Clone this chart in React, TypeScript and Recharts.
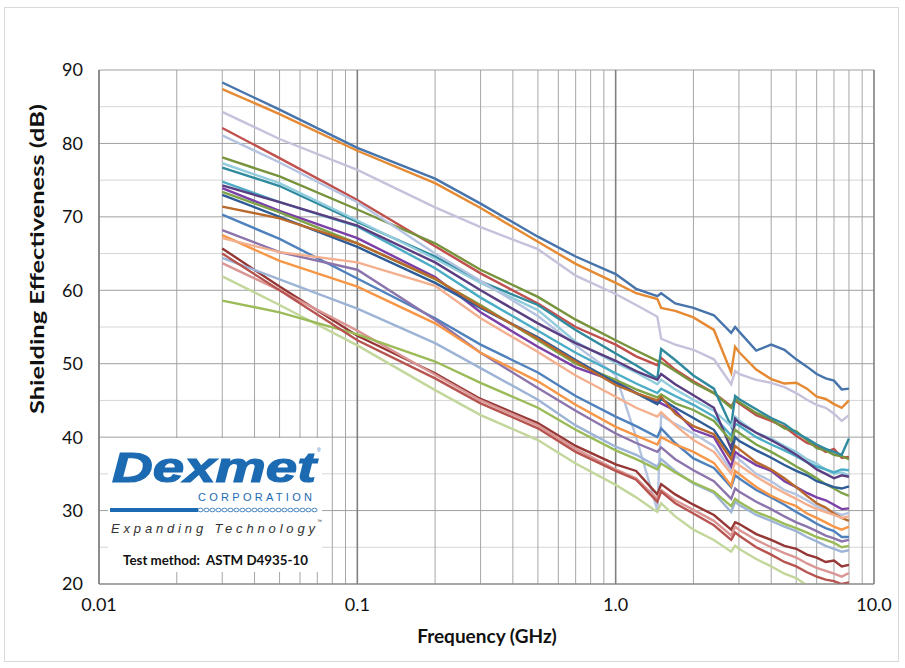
import { Line, LineChart, ReferenceLine, XAxis, YAxis } from "recharts";

// frequency points (GHz) shared by every curve
const frequency = [
  0.03, 0.05, 0.1, 0.2, 0.3, 0.5, 0.7, 1.0, 1.2, 1.45, 1.5, 1.7, 2.0, 2.4, 2.8,
  2.9, 3.0, 3.5, 4.0, 4.5, 5.0, 5.5, 6.0, 6.5, 7.0, 7.5, 8.0,
];

// shielding effectiveness (dB)
const seBlue = [88.3, 84.6, 79.4, 75.2, 71.8, 67.3, 64.6, 62.2, 60.2, 59.2, 59.6, 58.2, 57.6, 56.6, 54.2, 55.0, 54.4, 51.8, 52.6, 51.9, 50.6, 49.6, 48.6, 48.0, 47.7, 46.5, 46.6];
const seOrange = [87.4, 84.0, 79.0, 74.6, 71.2, 66.6, 63.6, 61.0, 59.6, 58.8, 57.6, 57.2, 56.3, 54.6, 48.8, 52.3, 51.6, 49.2, 47.9, 47.3, 47.4, 46.6, 45.5, 45.2, 44.5, 44.0, 45.0];
const seLavender = [84.3, 80.6, 76.4, 71.3, 68.6, 65.6, 62.0, 59.5, 58.0, 56.4, 53.4, 52.6, 51.9, 50.6, 47.2, 49.0, 48.6, 47.8, 47.4, 46.8, 46.0, 45.1, 44.4, 44.0, 43.2, 42.2, 43.0];
const seRed = [82.1, 78.0, 72.3, 66.0, 62.3, 58.2, 55.0, 52.6, 51.0, 49.8, 50.8, 49.2, 47.6, 46.0, 44.2, 45.0, 44.6, 43.0, 42.2, 41.4, 40.2, 39.2, 38.8, 38.0, 38.4, 37.2, 37.3];
const seOlive = [78.1, 75.5, 71.0, 66.4, 62.8, 59.1, 56.0, 53.2, 51.8, 50.4, 50.2, 49.0, 47.4, 46.0, 44.0, 45.2, 44.8, 43.3, 42.4, 41.2, 40.8, 39.6, 38.5, 38.2, 37.6, 37.4, 37.0];
const seTeal = [76.7, 74.2, 69.3, 64.6, 61.2, 58.0, 54.6, 51.4, 49.8, 48.0, 52.0, 50.5, 48.4, 46.6, 41.5, 45.6, 45.2, 43.8, 42.6, 41.8, 40.6, 39.8, 39.0, 38.4, 38.0, 37.6, 39.8];
const seLightTeal = [77.3, 74.6, 69.5, 64.3, 61.0, 57.3, 53.0, 50.1, 48.8, 47.2, 47.8, 46.5, 45.1, 43.6, 41.5, 42.8, 42.3, 40.6, 39.8, 38.8, 38.0, 37.0, 36.4, 35.6, 35.0, 35.2, 34.8];
const sePeriwinkle = [81.1, 77.4, 72.0, 65.0, 61.3, 56.5, 52.5, 48.5, 40.0, 30.0, 43.0, 41.8, 40.5, 38.8, 35.5, 37.5, 37.0, 35.0, 34.0, 32.8, 32.2, 31.4, 30.6, 30.0, 29.8, 29.4, 29.7];
const seAqua = [74.8, 72.0, 68.7, 63.0, 59.0, 54.5, 51.5, 48.7, 47.3, 46.0, 46.6, 45.6, 44.4, 42.8, 40.2, 41.8, 41.6, 40.0, 39.0, 38.2, 37.4, 36.6, 36.0, 35.6, 35.2, 35.6, 35.5];
const seDarkPurple = [74.3, 72.0, 68.8, 63.8, 60.0, 55.5, 52.8, 50.4, 49.0, 47.8, 48.6, 47.2, 45.7, 44.0, 38.4, 42.5, 42.0, 40.6, 39.6, 38.6, 37.6, 36.6, 35.6, 35.0, 34.4, 34.8, 34.6];
const sePurple = [73.9, 70.8, 67.1, 61.8, 57.0, 52.3, 49.5, 47.6, 46.0, 44.8, 44.6, 43.6, 41.0, 40.0, 36.0, 38.0, 37.6, 36.2, 35.4, 34.0, 33.2, 32.4, 31.8, 31.4, 30.8, 30.2, 30.3];
const seGreen = [73.4, 70.6, 66.4, 61.5, 58.0, 53.2, 50.0, 47.8, 46.5, 45.4, 45.8, 44.6, 43.7, 42.2, 39.5, 41.0, 40.6, 39.0, 38.0, 37.0, 36.0, 35.2, 34.4, 33.6, 33.0, 32.4, 32.0];
const seNavy = [73.0, 70.0, 65.9, 61.0, 57.6, 53.6, 50.5, 47.4, 46.0, 44.5, 45.2, 44.0, 42.6, 41.0, 37.5, 40.0, 39.5, 38.2, 37.2, 36.2, 35.4, 34.8, 34.0, 33.6, 33.2, 33.0, 33.3];
const seBrown = [71.4, 69.8, 66.4, 61.6, 57.8, 53.4, 50.3, 47.1, 46.0, 45.0, 45.5, 43.2, 41.5, 40.4, 37.0, 38.8, 38.4, 36.6, 35.6, 34.4, 33.2, 32.0, 31.0, 30.4, 29.6, 29.0, 28.6];
const seSteel = [70.3, 67.0, 61.6, 56.2, 52.6, 48.8, 45.6, 42.8, 41.5, 40.0, 41.2, 39.2, 37.1, 35.8, 33.2, 34.8, 34.4, 32.8, 31.8, 30.8, 29.8, 29.0, 28.2, 27.6, 27.2, 26.4, 26.4];
const seMauve = [68.2, 65.2, 62.8, 56.0, 51.5, 46.7, 43.6, 40.5, 39.2, 38.0, 38.6, 37.0, 35.5, 34.0, 31.6, 33.0, 32.6, 31.2, 30.2, 29.2, 28.4, 27.8, 27.2, 26.6, 26.2, 25.8, 26.0];
const seLightOrange = [67.5, 64.0, 60.5, 55.5, 51.5, 47.6, 44.4, 41.4, 40.2, 39.0, 40.0, 39.0, 38.0, 36.5, 33.4, 35.4, 35.0, 33.2, 32.0, 31.2, 30.6, 29.6, 29.0, 28.4, 27.8, 27.4, 27.8];
const seSalmon = [67.1, 65.2, 63.8, 60.6, 56.2, 51.6, 48.4, 45.5, 44.0, 42.8, 43.4, 41.6, 39.6, 38.0, 35.0, 36.6, 36.2, 34.6, 33.4, 32.4, 31.6, 30.8, 30.2, 29.8, 29.4, 29.0, 29.2];
const seMaroon = [65.7, 60.5, 53.8, 48.7, 45.2, 41.9, 38.8, 36.3, 35.4, 32.2, 33.6, 32.2, 30.8, 29.4, 27.4, 28.4, 28.2, 26.8, 26.0, 25.2, 24.8, 24.0, 23.6, 23.0, 23.2, 22.4, 22.6];
const seLightSteel = [64.4, 61.5, 57.5, 52.8, 49.4, 45.1, 41.6, 38.7, 37.6, 36.0, 37.0, 35.4, 33.7, 32.4, 29.8, 31.2, 30.8, 29.4, 28.6, 27.8, 27.2, 26.4, 25.8, 25.2, 24.8, 24.4, 24.6];
const sePink = [63.7, 60.0, 54.5, 48.5, 45.0, 41.6, 38.4, 35.6, 34.4, 31.6, 32.8, 31.4, 30.1, 28.6, 26.6, 27.8, 27.4, 26.0, 25.0, 24.2, 23.6, 22.8, 22.2, 21.8, 21.4, 21.0, 21.5];
const sePaleGreen = [61.9, 58.0, 52.5, 46.4, 43.0, 39.6, 36.4, 33.5, 31.8, 29.8, 31.0, 29.2, 27.4, 26.0, 24.4, 25.2, 24.8, 23.4, 22.4, 21.4, 20.8, 19.8, 19.0, 18.4, 17.8, 17.2, 16.8];
const seLime = [58.6, 57.0, 54.0, 50.3, 47.4, 44.0, 41.0, 38.2, 37.0, 35.6, 36.4, 35.2, 33.8, 32.6, 30.6, 31.6, 31.2, 29.8, 29.0, 28.2, 27.6, 27.0, 26.4, 26.0, 25.6, 25.0, 25.2];
const seRose = [65.0, 60.0, 53.2, 48.0, 44.6, 41.2, 38.0, 35.4, 34.2, 31.2, 32.6, 31.0, 29.6, 28.0, 26.0, 27.0, 26.6, 25.0, 24.0, 23.0, 22.4, 21.6, 21.0, 20.6, 20.4, 20.0, 20.2];

const series = [
  { key: "blue", color: "#4674ab", values: seBlue },
  { key: "orange", color: "#e58a33", values: seOrange },
  { key: "lavender", color: "#c7c1db", values: seLavender },
  { key: "red", color: "#c0504d", values: seRed },
  { key: "olive", color: "#77933c", values: seOlive },
  { key: "teal", color: "#2f8a9e", values: seTeal },
  { key: "lightTeal", color: "#93cddd", values: seLightTeal },
  { key: "periwinkle", color: "#b4c3e0", values: sePeriwinkle },
  { key: "aqua", color: "#4bacc6", values: seAqua },
  { key: "darkPurple", color: "#5a3e82", values: seDarkPurple },
  { key: "purple", color: "#7b3fa8", values: sePurple },
  { key: "green", color: "#7ea447", values: seGreen },
  { key: "navy", color: "#2e5c96", values: seNavy },
  { key: "brown", color: "#b9692c", values: seBrown },
  { key: "steel", color: "#4f81bd", values: seSteel },
  { key: "mauve", color: "#8c74ac", values: seMauve },
  { key: "lightOrange", color: "#f79646", values: seLightOrange },
  { key: "salmon", color: "#f4b08e", values: seSalmon },
  { key: "maroon", color: "#953735", values: seMaroon },
  { key: "lightSteel", color: "#9db4d6", values: seLightSteel },
  { key: "pink", color: "#d99694", values: sePink },
  { key: "paleGreen", color: "#c3d69b", values: sePaleGreen },
  { key: "lime", color: "#9bbb59", values: seLime },
  { key: "rose", color: "#b85450", values: seRose },
];

const xTicks = [0.01, 0.1, 1, 10];
const xTickLabels = ["0.01", "0.1", "1.0", "10.0"];
const xMinorGrid = [
  0.02, 0.03, 0.04, 0.05, 0.06, 0.07, 0.08, 0.09,
  0.2, 0.3, 0.4, 0.5, 0.6, 0.7, 0.8, 0.9,
  2, 3, 4, 5, 6, 7, 8, 9,
];
const yTicks = [20, 30, 40, 50, 60, 70, 80, 90];
const yMinorGrid = [25, 35, 45, 55, 65, 75, 85];

const rows = frequency.map((f, i) => {
  const row: Record<string, number> = { f };
  series.forEach((s) => (row[s.key] = s.values[i]));
  return row;
});

const FONT = "Lato, 'Liberation Sans', sans-serif";
const LOGO_FONT = "'Liberation Sans', sans-serif";
const BLUE = "#1c6ab2";

function Logo() {
  // little chain of links after the solid bar
  const links = Array.from({ length: 20 }, (_, i) => 200.5 + i * 6);
  return (
    <g>
      <rect x={108} y={438} width={214} height={134} fill="#fff" />
      <text x={112} y={482} fontFamily={LOGO_FONT} fontWeight="bold" fontStyle="italic"
        fontSize={42} fill={BLUE} stroke={BLUE} strokeWidth={1.2}
        textLength={204} lengthAdjust="spacingAndGlyphs">Dexmet</text>
      <text x={317} y={452} fontSize={5} fill={BLUE} fontFamily={LOGO_FONT}>®</text>
      <text x={198} y={501} fontFamily={LOGO_FONT} fontSize={11} fill={BLUE}
        textLength={114} lengthAdjust="spacing">CORPORATION</text>
      <rect x={110} y={508} width={88} height={4} fill={BLUE} />
      {links.map((cx) => (
        <ellipse key={cx} cx={cx} cy={510} rx={2.6} ry={1.8} fill="none" stroke={BLUE} strokeWidth={0.8} />
      ))}
      <text x={111} y={533} fontFamily={LOGO_FONT} fontStyle="italic" fontSize={13}
        fill="#333" textLength={204} lengthAdjust="spacing">Expanding Technology</text>
      <text x={317} y={523} fontSize={5} fill="#333" fontFamily={LOGO_FONT}>™</text>
      <text x={123} y={565} fontFamily={FONT} fontWeight="bold" fontSize={13} fill="#111"
        textLength={185} lengthAdjust="spacingAndGlyphs">{"Test method:\u00a0 ASTM D4935-10"}</text>
    </g>
  );
}

export default function App() {
  return (
    <div style={{ position: "relative", width: 905, height: 668, background: "#fff", fontFamily: FONT }}>
      <style>{"body{margin:0}"}</style>
      <div style={{ position: "absolute", left: 4, top: 7, width: 893, height: 653, border: "1px solid #d9d9d9" }} />
      <div style={{ position: "absolute", left: 0, top: 0 }}>
        <LineChart width={905} height={668} data={rows} margin={{ top: 70, right: 31, bottom: 54, left: 59 }}>
          {yMinorGrid.map((v) => (
            <ReferenceLine key={"ym" + v} y={v} stroke="#d6d6d6" strokeWidth={1} />
          ))}
          {xMinorGrid.map((v) => (
            <ReferenceLine key={"xm" + v} x={v} stroke="#a6a6a6" strokeWidth={1} />
          ))}
          {yTicks.map((v) => (
            <ReferenceLine key={"yM" + v} y={v} stroke="#a0a0a0" strokeWidth={1} />
          ))}
          {xTicks.map((v) => (
            <ReferenceLine key={"xM" + v} x={v} stroke="#808080" strokeWidth={1.6} />
          ))}
          <XAxis
            dataKey="f"
            type="number"
            scale="log"
            domain={[0.01, 10]}
            ticks={xTicks}
            interval={0}
            allowDataOverflow
            height={30}
            tickLine={false}
            tickSize={0}
            tickMargin={14}
            axisLine={{ stroke: "#808080" }}
            tick={{ fill: "#111", fontSize: 18, fontFamily: FONT }}
            tickFormatter={(v: number) => xTickLabels[xTicks.indexOf(v)] ?? String(v)}
          />
          <YAxis
            type="number"
            domain={[20, 90]}
            ticks={yTicks}
            interval={0}
            allowDataOverflow
            width={40}
            tickLine={false}
            tickSize={0}
            tickMargin={16}
            axisLine={{ stroke: "#808080" }}
            tick={{ fill: "#111", fontSize: 18, fontFamily: FONT }}
          />
          {series.map((s) => (
            <Line
              key={s.key}
              dataKey={s.key}
              type="linear"
              stroke={s.color}
              strokeWidth={2.4}
              dot={false}
              activeDot={false}
              isAnimationActive={false}
            />
          ))}
        </LineChart>
      </div>
      <svg width={905} height={668} style={{ position: "absolute", left: 0, top: 0, pointerEvents: "none" }}>
        <text x={37} y={259} transform="rotate(-90 37 259)" textAnchor="middle" dominantBaseline="central"
          fontFamily={FONT} fontWeight="bold" fontSize={18} fill="#111"
          textLength={310} lengthAdjust="spacingAndGlyphs">Shielding Effectiveness (dB)</text>
        <text x={487} y={643} textAnchor="middle" fontFamily={FONT} fontWeight="bold" fontSize={19} fill="#111">
          Frequency (GHz)
        </text>
        <Logo />
      </svg>
    </div>
  );
}
